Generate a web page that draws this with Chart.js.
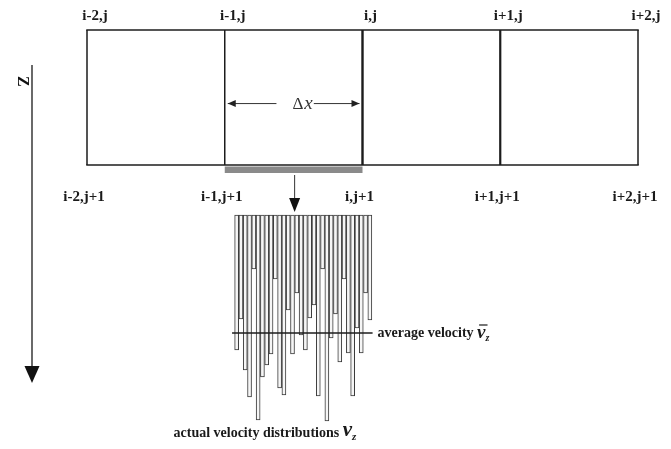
<!DOCTYPE html>
<html><head><meta charset="utf-8">
<script src="https://cdn.jsdelivr.net/npm/chart.js@4.4.1/dist/chart.umd.min.js"></script>
<style>html,body{margin:0;padding:0;background:#fff;}#wrap{position:relative;width:671px;height:449px;}canvas{display:block;}</style>
</head><body><div id="wrap"><canvas id="c" width="671" height="449"></canvas></div>
<script>
// ---- data ----
const nodeOffsets = [-2, -1, 0, 1, 2];          // columns i-2 .. i+2
const rowLevels = [0, 1];                        // rows j, j+1
const topLabels = ['i-2,j', 'i-1,j', 'i,j', 'i+1,j', 'i+2,j'];
const bottomLabels = ['i-2,j+1', 'i-1,j+1', 'i,j+1', 'i+1,j+1', 'i+2,j+1'];
const cellFrom = -1, cellTo = 0;                 // the cell i-1 .. i
// actual velocity distribution v_z across Δx (bar lengths, arbitrary units)
const velocities = [135, 104, 155, 182, 54, 205, 162, 150, 139, 64, 173, 180, 95, 139, 78, 120,
                    135, 103, 90, 181, 54, 206, 123, 99, 147, 64, 138, 181, 113, 138, 78, 105];
const averageVelocity = 118;
const zLabel = 'Z';
const avgText = 'average velocity ';
const actualText = 'actual velocity distributions ';

// ---- styles ----
const colLineWidths = [1.5, 1.5, 2.4, 2.2, 1.5];
const ink = '#1c1c1c';
const SERIF = '"Liberation Serif", "DejaVu Serif", serif';

const W = 671, H = 449;
const colPx = 137.75, leftPx = 87, rowPx = 135, topPx = 30;
const barPx = 4.297, barsLeft = 232.5, barsTop = 215;

const datasets = [];
rowLevels.forEach(r => datasets.push({
  type: 'line', xAxisID: 'x', yAxisID: 'y', order: 1,
  data: [{x: nodeOffsets[0], y: r}, {x: nodeOffsets[nodeOffsets.length - 1], y: r}],
  borderColor: ink, borderWidth: 1.5, pointRadius: 0, fill: false, borderCapStyle: 'square', clip: false
}));
nodeOffsets.forEach((n, k) => datasets.push({
  type: 'line', xAxisID: 'x', yAxisID: 'y', order: 1,
  data: [{x: n, y: rowLevels[0]}, {x: n, y: rowLevels[1]}],
  borderColor: ink, borderWidth: colLineWidths[k], pointRadius: 0, fill: false, clip: false
}));
datasets.push({
  type: 'bar', xAxisID: 'xb', yAxisID: 'yv', order: 3,
  data: velocities.map((v, k) => ({x: k, y: v})),
  backgroundColor: '#f6f6f6', borderColor: '#3a3a3a', borderWidth: 1, borderSkipped: false,
  barThickness: barPx * 0.93
});
datasets.push({
  type: 'line', xAxisID: 'xb', yAxisID: 'yv', order: 0,
  data: [{x: -0.6, y: averageVelocity}, {x: velocities.length + 0.1, y: averageVelocity}],
  borderColor: ink, borderWidth: 1.5, pointRadius: 0, fill: false, clip: false
});

function head(ctx, x, y, ang, len, half) {
  ctx.save(); ctx.translate(x, y); ctx.rotate(ang);
  ctx.beginPath(); ctx.moveTo(0, 0); ctx.lineTo(-len, -half); ctx.lineTo(-len, half); ctx.closePath(); ctx.fill();
  ctx.restore();
}

const diagram = {
  id: 'diagram',
  afterDatasetsDraw(chart) {
    const {ctx, scales} = chart;
    const sx = v => scales.x.getPixelForValue(v), sy = v => scales.y.getPixelForValue(v);
    const bx = v => scales.xb.getPixelForValue(v), by = v => scales.yv.getPixelForValue(v);
    ctx.save();

    // grey interface strip under cell i-1..i
    ctx.fillStyle = '#8a8a8a';
    ctx.fillRect(sx(cellFrom), sy(rowLevels[1]) + 1.5, sx(cellTo) - sx(cellFrom), 6.5);

    // flux arrow down into the distribution
    const ax = (sx(cellFrom) + sx(cellTo)) / 2 + 1;
    ctx.lineWidth = 1; ctx.strokeStyle = '#333';
    ctx.beginPath(); ctx.moveTo(ax, sy(rowLevels[1]) + 10); ctx.lineTo(ax, by(0) - 14); ctx.stroke();
    ctx.fillStyle = '#111';
    head(ctx, ax, by(0) - 3, Math.PI / 2, 14, 5.5);

    // Δx dimension arrow
    const dy = sy(0.545);
    const tx = (sx(cellFrom) + sx(cellTo)) / 2 + 9;
    ctx.font = '17px ' + SERIF;
    const wD = ctx.measureText('Δ').width;
    ctx.font = 'italic 19px ' + SERIF;
    const wX = ctx.measureText('x').width;
    const tw = wD + wX + 1;
    const l0 = sx(cellFrom) + 3, r0 = sx(cellTo) - 3;
    ctx.strokeStyle = '#333'; ctx.lineWidth = 1;
    ctx.beginPath(); ctx.moveTo(l0, dy); ctx.lineTo(tx - tw / 2 - 16, dy);
    ctx.moveTo(tx + tw / 2 + 1, dy); ctx.lineTo(r0, dy); ctx.stroke();
    ctx.fillStyle = '#222';
    head(ctx, l0, dy, Math.PI, 8, 3.5);
    head(ctx, r0, dy, 0, 8, 3.5);
    ctx.textBaseline = 'middle'; ctx.textAlign = 'left';
    ctx.fillStyle = '#333';
    ctx.font = '17px ' + SERIF;
    ctx.fillText('Δ', tx - tw / 2, dy + 1);
    ctx.font = 'italic 19px ' + SERIF;
    ctx.fillText('x', tx - tw / 2 + wD + 1, dy);

    // node labels
    ctx.fillStyle = '#1a1a1a';
    ctx.font = 'bold 15px ' + SERIF;
    ctx.textAlign = 'center'; ctx.textBaseline = 'alphabetic';
    nodeOffsets.forEach((n, k) => {
      ctx.fillText(topLabels[k], sx(n) + 8, sy(rowLevels[0]) - 10);
      ctx.fillText(bottomLabels[k], sx(n) - 3, sy(rowLevels[1]) + 36);
    });

    // Z axis arrow
    const zx = chart.chartArea.left + 32;
    ctx.strokeStyle = '#444'; ctx.lineWidth = 1.6;
    ctx.beginPath(); ctx.moveTo(zx, sy(0.26)); ctx.lineTo(zx, sy(2.615) - 14); ctx.stroke();
    ctx.fillStyle = '#111';
    head(ctx, zx, sy(2.615), Math.PI / 2, 17, 7.5);
    ctx.save();
    ctx.translate(zx - 10, sy(0.38)); ctx.rotate(Math.PI / 2);
    ctx.font = 'bold 16px ' + SERIF; ctx.textAlign = 'center'; ctx.textBaseline = 'middle';
    ctx.fillText(zLabel, 0, 0);
    ctx.restore();

    // average velocity label
    const ay = by(averageVelocity);
    let x0 = bx(velocities.length + 0.1) + 5;
    ctx.fillStyle = '#1a1a1a'; ctx.textAlign = 'left'; ctx.textBaseline = 'middle';
    ctx.font = 'bold 14px ' + SERIF;
    ctx.fillText(avgText, x0, ay);
    x0 += ctx.measureText(avgText).width;
    ctx.font = 'italic bold 19px ' + SERIF;
    ctx.fillText('v', x0, ay);
    const vw = ctx.measureText('v').width;
    ctx.lineWidth = 1.2; ctx.strokeStyle = '#1a1a1a';
    ctx.beginPath(); ctx.moveTo(x0 + 2, ay - 8); ctx.lineTo(x0 + vw + 2, ay - 8); ctx.stroke();
    ctx.font = 'italic bold 10px ' + SERIF;
    ctx.fillText('z', x0 + vw, ay + 5);

    // actual velocity distributions label
    const ly = by(0) + 222;
    let x1 = bx(-0.5) - 59;
    ctx.textBaseline = 'alphabetic';
    ctx.font = 'bold 14px ' + SERIF;
    ctx.fillText(actualText, x1, ly);
    x1 += ctx.measureText(actualText).width;
    ctx.font = 'italic bold 21px ' + SERIF;
    ctx.fillText('v', x1, ly - 1);
    const vw2 = ctx.measureText('v').width;
    ctx.font = 'italic bold 11px ' + SERIF;
    ctx.fillText('z', x1 + vw2, ly + 3);

    ctx.restore();
  }
};

new Chart(document.getElementById('c'), {
  type: 'bar',
  data: {datasets},
  options: {
    responsive: false, animation: false, events: [],
    devicePixelRatio: 1,
    layout: {padding: 0},
    plugins: {legend: {display: false}, tooltip: {enabled: false}},
    scales: {
      x: {type: 'linear', display: false, offset: false,
          min: nodeOffsets[0] - leftPx / colPx, max: nodeOffsets[0] + (W - leftPx) / colPx},
      y: {type: 'linear', display: false, offset: false, reverse: true,
          min: rowLevels[0] - topPx / rowPx, max: rowLevels[0] + (H - topPx) / rowPx},
      xb: {type: 'linear', display: false, offset: false,
           min: -0.5 - barsLeft / barPx, max: -0.5 + (W - barsLeft) / barPx},
      yv: {type: 'linear', display: false, offset: false, reverse: true,
           min: -barsTop, max: H - barsTop}
    }
  },
  plugins: [diagram]
});
</script>
</body></html>
